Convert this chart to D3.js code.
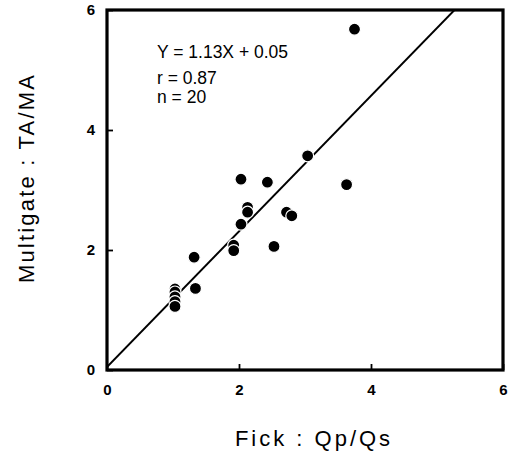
<!DOCTYPE html>
<html>
<head>
<meta charset="utf-8">
<script src="https://cdn.jsdelivr.net/npm/d3@7"></script>
<style>
  body { margin: 0; background: #fff; }
  svg { display: block; font-family: Arial, "Liberation Sans", sans-serif; }
</style>
</head>
<body>
<svg id="chart" width="509" height="456"></svg>
<script>
// values
const fickQpQs = [3.75, 3.04, 2.03, 2.43, 3.63, 2.13, 2.13, 2.72, 2.8, 2.03, 1.92, 1.92, 2.53, 1.32, 1.34, 1.03, 1.03, 1.03, 1.03, 1.03]
const multigateTaMa = [5.68, 3.57, 3.18, 3.13, 3.09, 2.71, 2.63, 2.63, 2.57, 2.43, 2.08, 1.99, 2.06, 1.88, 1.36, 1.35, 1.3, 1.22, 1.14, 1.06]
const xTicks = [0, 2, 4, 6]
const yTicks = [0, 2, 4, 6]
const slope = 1.13,
  intercept = 0.05
const statsLines = ['Y = 1.13X + 0.05', 'r = 0.87', 'n = 20']

const svg = d3.select('#chart')
const x = d3.scaleLinear().domain([0, 6]).range([107, 503])
const y = d3.scaleLinear().domain([0, 6]).range([370, 10])

const points = fickQpQs.map((v, i) => ({ x: v, y: multigateTaMa[i] }))

// regression line, clipped at the top of the frame
const xEnd = (6 - intercept) / slope
svg
  .append('line')
  .attr('x1', x(0))
  .attr('y1', y(intercept))
  .attr('x2', x(xEnd))
  .attr('y2', y(6))
  .attr('stroke', '#000')
  .attr('stroke-width', 1.8)

// points (white rim gives the small breaks in the line)
svg
  .selectAll('.dot')
  .data(points)
  .enter()
  .append('circle')
  .attr('class', 'dot')
  .attr('cx', (d) => x(d.x))
  .attr('cy', (d) => y(d.y))
  .attr('r', 6)
  .attr('fill', '#000')
  .attr('stroke', '#fff')
  .attr('stroke-width', 1.2)

// axes: ticks pointing inward
const xAxis = svg
  .append('g')
  .attr('transform', 'translate(0,' + y(0) + ')')
  .call(d3.axisBottom(x).tickValues(xTicks).tickSize(-6).tickPadding(14).tickFormat(d3.format('d')))
const yAxis = svg
  .append('g')
  .attr('transform', 'translate(' + x(0) + ',0)')
  .call(d3.axisLeft(y).tickValues(yTicks).tickSize(-6).tickPadding(12).tickFormat(d3.format('d')))

;[xAxis, yAxis].forEach((a) => {
  a.select('.domain').remove()
  a.selectAll('line').attr('stroke', '#000').attr('stroke-width', 1.8)
  a.selectAll('text')
    .attr('fill', '#000')
    .attr('font-size', 15)
    .attr('font-weight', 'bold')
    .attr('font-family', 'Arial, "Liberation Sans", sans-serif')
})

// frame
svg
  .append('rect')
  .attr('x', x(0))
  .attr('y', y(6))
  .attr('width', x(6) - x(0))
  .attr('height', y(0) - y(6))
  .attr('fill', 'none')
  .attr('stroke', '#000')
  .attr('stroke-width', 3.2)

// stats text
const statsY = [58, 84, 103]
svg
  .selectAll('.stats')
  .data(statsLines)
  .enter()
  .append('text')
  .attr('class', 'stats')
  .attr('x', 157)
  .attr('y', (d, i) => statsY[i])
  .attr('font-size', 17.5)
  .text((d) => d)

// axis titles
svg
  .append('text')
  .attr('x', 314)
  .attr('y', 446)
  .attr('text-anchor', 'middle')
  .attr('font-size', 22)
  .attr('letter-spacing', 3)
  .text('Fick : Qp/Qs')

svg
  .append('text')
  .attr('transform', 'translate(34,178)rotate(-90)')
  .attr('text-anchor', 'middle')
  .attr('font-size', 22)
  .attr('letter-spacing', 2.2)
  .text('Multigate : TA/MA')
</script>
</body>
</html>
